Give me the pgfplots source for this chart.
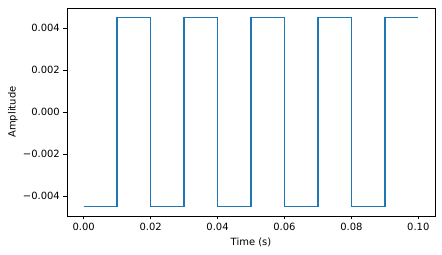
\documentclass[border=0pt]{standalone}
\usepackage{fontspec}
\setmainfont{DejaVu Sans}
\usepackage{pgfplots}
\pgfplotsset{compat=1.18}
\definecolor{mplblue}{HTML}{1F77B4}
\begin{document}
\fontsize{10}{12}\selectfont
\begin{tikzpicture}
\begin{axis}[
  name=ax,
  scale only axis,
  width=368bp, height=208bp,
  xmin=-0.005, xmax=0.105,
  ymin=-0.00495, ymax=0.00495,
  axis line style={line width=0.8bp},
  tick align=outside,
  tick pos=left,
  major tick length=3.5bp,
  every tick/.style={black, line width=0.8bp},
  xtick={0,0.02,0.04,0.06,0.08,0.1},
  xticklabels={0.00,0.02,0.04,0.06,0.08,0.10},
  ytick={-0.004,-0.002,0,0.002,0.004},
  yticklabels={−0.004,−0.002,0.000,0.002,0.004},
  scaled ticks=false,
  tick label style={font=\fontsize{10}{12}\selectfont, inner sep=3.5bp},
  xlabel={Time (s)},
  ylabel={Amplitude},
  label style={font=\fontsize{10}{12}\selectfont},
  xlabel style={at={(axis description cs:0.5,-0.125)}, anchor=center},
  ylabel style={at={(axis description cs:-0.147,0.5)}, anchor=center},
  clip=false,
]
\addplot[mplblue, line width=1.5bp, line join=miter] coordinates {
(0,-0.0045) (0.01,-0.0045) (0.01,0.0045) (0.02,0.0045) (0.02,-0.0045)
(0.03,-0.0045) (0.03,0.0045) (0.04,0.0045) (0.04,-0.0045)
(0.05,-0.0045) (0.05,0.0045) (0.06,0.0045) (0.06,-0.0045)
(0.07,-0.0045) (0.07,0.0045) (0.08,0.0045) (0.08,-0.0045)
(0.09,-0.0045) (0.09,0.0045) (0.1,0.0045)
};
\end{axis}
\pgfresetboundingbox
\path ([xshift=-67bp,yshift=-39bp]ax.south west) rectangle ([xshift=7bp,yshift=8bp]ax.north east);
\end{tikzpicture}
\end{document}
